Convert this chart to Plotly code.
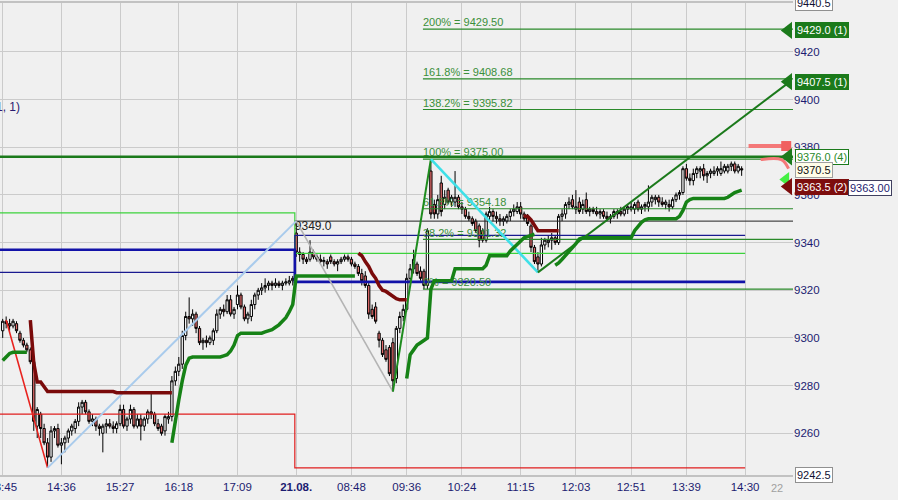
import plotly.graph_objects as go

# ---------------- data (3-minute bars, index 0 = 13:45 on day 1) ----------------
opens = [9303, 9307, 9306, 9305, 9306, 9302, 9299, 9297, 9295, 9290,
         9263, 9268, 9262, 9256, 9250, 9261, 9262, 9255, 9256, 9258,
         9261, 9262, 9265, 9271, 9273, 9269, 9265, 9266, 9263, 9260,
         9263, 9264, 9263, 9262, 9264, 9270, 9263, 9266, 9270, 9263,
         9266, 9263, 9266, 9269, 9268, 9264, 9263, 9261, 9266, 9267,
         9282, 9286, 9289, 9301, 9309, 9308, 9310, 9304, 9298, 9299,
         9298, 9299, 9303, 9310, 9312, 9311, 9316, 9310, 9314, 9318,
         9313, 9308, 9309, 9314, 9318, 9320, 9321, 9322, 9323, 9322,
         9323, 9322, 9323, 9323, 9324,
         9344, 9336, 9335, 9333, 9333, 9336, 9334, 9333, 9332, 9332,
         9334, 9332, 9331, 9332, 9333, 9334, 9333, 9331, 9330, 9327,
         9326, 9322, 9312, 9313, 9302, 9299, 9295, 9296, 9298, 9283,
         9304, 9309, 9312, 9325, 9329, 9331, 9328, 9328, 9322, 9370,
         9356, 9352, 9365, 9356, 9362, 9357, 9357, 9359, 9355, 9354,
         9351, 9350, 9349, 9347, 9345, 9341, 9351, 9353, 9351, 9350,
         9349, 9349, 9351, 9353, 9353, 9355, 9352, 9351, 9347, 9338,
         9334, 9331, 9339, 9340, 9341, 9342, 9340, 9351, 9352, 9356,
         9358, 9354, 9357, 9354, 9358, 9353, 9354, 9353, 9352, 9353,
         9351, 9350, 9351, 9352, 9353, 9352, 9354, 9354, 9354, 9357,
         9354, 9355, 9355, 9357, 9358, 9359, 9357, 9356, 9356, 9355,
         9358, 9360, 9361, 9371, 9367, 9366, 9369, 9370, 9371, 9368,
         9369, 9369, 9370, 9369, 9370, 9370, 9372, 9373, 9370, 9371]
highs = [9308, 9309, 9308, 9308, 9307, 9303, 9300, 9298, 9296, 9291,
         9271, 9269, 9264, 9258, 9263, 9263, 9264, 9258, 9259, 9262,
         9264, 9266, 9273, 9274, 9274, 9270, 9268, 9267, 9264, 9264,
         9266, 9266, 9265, 9265, 9272, 9272, 9267, 9272, 9271, 9268,
         9268, 9267, 9270, 9277, 9269, 9266, 9264, 9268, 9269, 9284,
         9288, 9292, 9303, 9311, 9317, 9312, 9311, 9305, 9300, 9301,
         9301, 9304, 9312, 9313, 9314, 9318, 9318, 9313, 9322, 9319,
         9314, 9311, 9316, 9319, 9321, 9323, 9325, 9324, 9324, 9325,
         9324, 9324, 9325, 9326, 9326,
         9349, 9338, 9336, 9334, 9341, 9337, 9335, 9335, 9334, 9333,
         9335, 9333, 9333, 9334, 9335, 9335, 9334, 9332, 9331, 9329,
         9328, 9323, 9314, 9315, 9303, 9300, 9297, 9297, 9300, 9305,
         9311, 9314, 9327, 9331, 9337, 9332, 9330, 9329, 9346, 9375,
         9358, 9360, 9368, 9362, 9363, 9360, 9370, 9360, 9357, 9355,
         9353, 9351, 9350, 9348, 9346, 9353, 9355, 9354, 9353, 9352,
         9351, 9352, 9354, 9356, 9357, 9357, 9353, 9352, 9348, 9339,
         9336, 9342, 9342, 9343, 9344, 9343, 9352, 9354, 9357, 9359,
         9360, 9362, 9359, 9358, 9361, 9355, 9355, 9355, 9354, 9354,
         9353, 9352, 9354, 9354, 9355, 9355, 9356, 9357, 9357, 9358,
         9356, 9357, 9364, 9360, 9360, 9360, 9359, 9358, 9358, 9359,
         9361, 9362, 9372, 9373, 9369, 9371, 9372, 9372, 9373, 9370,
         9371, 9372, 9372, 9374, 9373, 9373, 9374, 9374, 9373, 9372]
lows = [9300, 9304, 9303, 9304, 9302, 9298, 9296, 9294, 9289, 9261,
        9258, 9258, 9255, 9245.5, 9248, 9258, 9254, 9247, 9252, 9256,
        9259, 9260, 9263, 9268, 9268, 9264, 9263, 9261, 9259, 9252,
        9260, 9262, 9260, 9260, 9263, 9262, 9261, 9264, 9262, 9262,
        9257, 9261, 9264, 9266, 9263, 9261, 9259, 9259, 9264, 9265,
        9280, 9284, 9287, 9299, 9306, 9305, 9302, 9297, 9295, 9296,
        9297, 9297, 9302, 9308, 9309, 9310, 9309, 9308, 9312, 9312,
        9307, 9306, 9307, 9312, 9316, 9318, 9319, 9320, 9320, 9321,
        9321, 9320, 9322, 9322, 9322,
        9334, 9332, 9331, 9331, 9332, 9333, 9332, 9331, 9330, 9329,
        9331, 9330, 9328, 9331, 9332, 9332, 9330, 9329, 9326, 9322,
        9321, 9308, 9308, 9306, 9296, 9292, 9290, 9284, 9277.5, 9281,
        9302, 9307, 9311, 9323, 9327, 9326, 9324, 9320.5, 9320.5, 9350,
        9350, 9350, 9351, 9354, 9356, 9355, 9355, 9354, 9352, 9350,
        9349, 9347, 9344, 9338, 9340, 9340, 9349, 9349, 9348, 9347,
        9347, 9348, 9349, 9351, 9352, 9350, 9349, 9347, 9336, 9331,
        9327.5, 9330, 9337, 9338, 9337, 9339, 9339, 9349, 9350, 9354,
        9354, 9352, 9352, 9352, 9352, 9351, 9352, 9351, 9350, 9350,
        9349, 9348, 9350, 9350, 9351, 9351, 9352, 9353, 9352, 9353,
        9352, 9353, 9353, 9355, 9356, 9355, 9355, 9354, 9353, 9354,
        9357, 9358, 9360, 9366, 9364, 9364, 9367, 9367, 9366, 9365,
        9367, 9368, 9368, 9368, 9369, 9369, 9370, 9369, 9369, 9368]
closes = [9307, 9306, 9305, 9307, 9303, 9299, 9297, 9295, 9290, 9265,
          9270, 9262, 9256, 9250, 9261, 9262, 9255, 9256, 9258, 9261,
          9263, 9265, 9271, 9273, 9269, 9265, 9266, 9263, 9262, 9263,
          9264, 9263, 9262, 9264, 9270, 9263, 9266, 9270, 9263, 9266,
          9263, 9266, 9269, 9268, 9264, 9262, 9260, 9267, 9267, 9282,
          9286, 9289, 9301, 9309, 9308, 9310, 9304, 9298, 9299, 9298,
          9300, 9303, 9310, 9312, 9311, 9316, 9310, 9312, 9318, 9313,
          9308, 9310, 9314, 9318, 9320, 9321, 9322, 9323, 9322, 9323,
          9322, 9323, 9323.5, 9324, 9325,
          9336, 9335, 9333, 9332, 9336, 9334, 9333, 9332, 9332.5, 9331,
          9332, 9331, 9332, 9333, 9334, 9333, 9331, 9330, 9327, 9324,
          9322, 9310, 9309, 9307, 9299, 9293, 9291, 9285, 9282, 9304,
          9309, 9312, 9325, 9329, 9333, 9327, 9325, 9322, 9345, 9352,
          9352, 9358, 9353, 9359, 9357, 9359, 9359, 9355, 9354, 9351,
          9350, 9348, 9345, 9341, 9341, 9352, 9353, 9351, 9350, 9349,
          9350, 9351, 9353, 9354, 9355, 9352, 9350, 9348, 9338, 9332,
          9331, 9339, 9341, 9341, 9342, 9340, 9351, 9352, 9356, 9357,
          9355, 9355, 9353, 9356, 9353, 9354, 9353, 9352, 9353, 9351,
          9350, 9351, 9353, 9353, 9352, 9354, 9355, 9355, 9356, 9354,
          9355, 9356, 9357, 9359, 9359, 9357, 9356, 9357, 9355, 9358,
          9360, 9361, 9371, 9367, 9366, 9369, 9371, 9371, 9368, 9369,
          9370, 9370, 9371, 9371, 9372, 9372, 9373, 9370, 9372, 9370.5]

# trailing stops (start bar, values)
short_stop_a_start = 8
short_stop_a = [9307.5, 9289.5, 9281.5, 9281.5, 9279.5,
                9277.5, 9277.5, 9277.5, 9277.5, 9277.5, 9277.5, 9277.5, 9277.5, 9277.5, 9277.5,
                9277.5, 9277.5, 9277.5, 9277.5, 9277.5, 9277.5, 9277.5, 9277.5, 9277.5, 9277.5,
                9277, 9277, 9277, 9277, 9277, 9277, 9277, 9277, 9277, 9277,
                9277, 9277, 9277, 9277, 9277, 9277, 9277]
short_stop_b_start = 103
short_stop_b = [9335.5, 9334.5, 9332, 9330, 9327, 9325, 9322, 9320, 9319.5, 9318.5,
                9317.5, 9316.5, 9316, 9316, 9316]
short_stop_c_start = 151
short_stop_c = [9351, 9351, 9349.5, 9347, 9345, 9345, 9345, 9345, 9345, 9345, 9345]

long_stop_a_start = 0
long_stop_a = [9290.5, 9292, 9293.5, 9294, 9294, 9294, 9294, 9294]
long_stop_b_start = 49
long_stop_b = [9256, 9265.5, 9274, 9282, 9288.5, 9291.5,
               9292, 9292, 9292, 9292, 9292, 9292, 9292, 9292, 9292,
               9292.5, 9293, 9294.5, 9297, 9301,
               9302, 9302, 9302, 9302, 9302, 9302, 9302,
               9302.5, 9303, 9303.5, 9304.5, 9305.5, 9307, 9308.5, 9311, 9314,
               9326, 9326, 9326, 9326, 9326, 9326, 9326, 9326, 9326,
               9326, 9326, 9326, 9326, 9326, 9326, 9326, 9326, 9326]
long_stop_c_start = 117
long_stop_c = [9283, 9293, 9295, 9297, 9298, 9299, 9300, 9320.5,
               9324, 9324, 9324, 9324, 9324, 9324,
               9329, 9329, 9329, 9329, 9329, 9329, 9329, 9329, 9329,
               9330.5,
               9334.5, 9334.5, 9334.5, 9334.5, 9334.5, 9334.5,
               9336.5, 9338, 9339.5, 9341, 9342, 9342.5, 9343, 9343.5]
long_stop_d_start = 160
long_stop_d = [9330.5, 9331.5, 9333, 9334.5, 9336, 9337.5, 9339.5, 9341.5,
               9342, 9342, 9342, 9342, 9342, 9342, 9342, 9342, 9342, 9342, 9342, 9342, 9342, 9342, 9342,
               9345, 9347, 9348.5, 9349.5,
               9350, 9350, 9350, 9350, 9350, 9350, 9350, 9350, 9350,
               9351, 9353.5, 9357, 9358,
               9358.5, 9358.5, 9358.5, 9358.5, 9358.5, 9358.5, 9358.5, 9358.5, 9358.5, 9358.5,
               9359, 9360, 9361, 9361.5, 9362]

# zigzag swing points
zz_x = [1, 13, 85, 113, 124, 155]
zz_y = [9307.5, 9245.5, 9349.0, 9277.5, 9375.0, 9327.5]
zz_colors = ["#e8221e", "#a9cbec", "#b4b4b4", "#1e8c1e", "#3fe0e8"]
zz_widths = [1.6, 2, 1.6, 2, 2.6]
trend_x = [155, 228]
trend_y = [9327.5, 9407.5]

# daily levels: [day 1, day 2]
day_switch = 84.6
level_end = 215
x_left, x_right = -0.78, 228.87
red_level = [9268.0, 9245.5]
lightgreen_level = [9352.5, 9335.5]
navy_thick_level = [9337.0, 9323.5]
navy_thin_level = [9327.5, 9343.0]
day2_high = 9349.0
order_level = 9376.0

# fibonacci
fib_start = 121.7
fib_pcts = ["200%", "161.8%", "138.2%", "100%", "61.8%", "38.2%", "0%"]
fib_vals = [9429.50, 9408.68, 9395.82, 9375.00, 9354.18, 9341.32, 9320.50]

# x ticks
tick_idx = [0, 17, 34, 51, 68, 85, 101, 117, 133, 150, 166, 182, 198, 215]
tick_txt = ["13:45", "14:36", "15:27", "16:18", "17:09", "<b>21.08.</b>", "08:48",
            "09:36", "10:24", "11:15", "12:03", "12:51", "13:39", "14:30"]
y_ticks = [9260, 9280, 9300, 9320, 9340, 9360, 9380, 9400, 9420]

# right tags
tag_vals = [9429.0, 9407.5, 9376.0, 9363.5]
tag_text = ["9429.0 (1)", "9407.5 (1)", "9376.0 (4)", "9363.5 (2)"]
tag_bg = ["#1b7a1b", "#1b7a1b", "#ffffff", "#7d0d0d"]
tag_fg = ["#ffffff", "#ffffff", "#2a8a2a", "#ffffff"]
tag_arrow = ["#1b7a1b", "#1b7a1b", "#1b7a1b", "#7d0d0d"]
last_price = 9370.5
bid_price = 9363.00
axis_top, axis_bottom = 9440.5, 9242.5
edge_marks_x = [257, 257]
edge_marks_y = [9437.5, 9245]

FONT = "Liberation Sans, Arial, sans-serif"
NAVY = "#1c1c70"

n = len(closes)
bars = list(range(n))


def seg(start, vals):
    y = [None] * n
    for i, v in enumerate(vals):
        y[start + i] = v
    return y


fig = go.Figure()


def level(vals, color, width):
    fig.add_trace(go.Scatter(x=[x_left, day_switch, level_end], y=[vals[0], vals[1], vals[1]],
                             mode="lines", line=dict(color=color, width=width, shape="hv"),
                             hoverinfo="skip", showlegend=False))


level(red_level, "#e01e1e", 1.2)
level(lightgreen_level, "#3cd23c", 1.2)
level(navy_thin_level, "#1a1a90", 1.2)
level(navy_thick_level, "#1212a8", 2.6)

fig.add_trace(go.Scatter(x=[day_switch, x_right], y=[day2_high, day2_high], mode="lines",
                         line=dict(color="#222222", width=1), hoverinfo="skip", showlegend=False))
fig.add_trace(go.Scatter(x=[84.6], y=[day2_high], mode="text", text=["9349.0"],
                         textposition="bottom right", textfont=dict(family=FONT, size=12, color="#222222"),
                         hoverinfo="skip", showlegend=False))

# fib lines + labels
for v in fib_vals:
    fig.add_trace(go.Scatter(x=[fib_start, x_right], y=[v, v], mode="lines",
                             line=dict(color="#2a8a2a", width=1.2), hoverinfo="skip", showlegend=False))
fig.add_trace(go.Scatter(x=[fib_start] * len(fib_vals), y=fib_vals, mode="text",
                         text=[f"{p} = {v:.2f}" for p, v in zip(fib_pcts, fib_vals)],
                         textposition="top right", textfont=dict(family=FONT, size=11, color="#3a8f3a"),
                         hoverinfo="skip", showlegend=False))

fig.add_trace(go.Scatter(x=[x_left, x_right], y=[order_level, order_level], mode="lines",
                         line=dict(color="#1b7a1b", width=2.6), hoverinfo="skip", showlegend=False))

# candles
fig.add_trace(go.Candlestick(x=bars, open=opens, high=highs, low=lows, close=closes,
                             increasing=dict(line=dict(color="#000000", width=1), fillcolor="#ffffff"),
                             decreasing=dict(line=dict(color="#000000", width=1), fillcolor="#e06a6a"),
                             whiskerwidth=0, hoverinfo="skip", showlegend=False))

# zigzag
for i in range(len(zz_x) - 1):
    fig.add_trace(go.Scatter(x=zz_x[i:i + 2], y=zz_y[i:i + 2], mode="lines",
                             line=dict(color=zz_colors[i], width=zz_widths[i]),
                             hoverinfo="skip", showlegend=False))
fig.add_trace(go.Scatter(x=trend_x, y=trend_y, mode="lines", line=dict(color="#1b7a1b", width=2),
                         hoverinfo="skip", showlegend=False, cliponaxis=False))

# trailing stops
for st, vals in [(short_stop_a_start, short_stop_a), (short_stop_b_start, short_stop_b),
                 (short_stop_c_start, short_stop_c)]:
    fig.add_trace(go.Scatter(x=bars, y=seg(st, vals), mode="lines", connectgaps=False,
                             line=dict(color="#7a0a0a", width=3.5), hoverinfo="skip", showlegend=False))
for st, vals in [(long_stop_a_start, long_stop_a), (long_stop_b_start, long_stop_b),
                 (long_stop_c_start, long_stop_c), (long_stop_d_start, long_stop_d)]:
    fig.add_trace(go.Scatter(x=bars, y=seg(st, vals), mode="lines", connectgaps=False,
                             line=dict(color="#168216", width=3.5), hoverinfo="skip", showlegend=False))

# order markers near the axis
fig.add_trace(go.Scatter(x=[216, 226], y=[9380.5, 9380.5], mode="lines",
                         line=dict(color="#f47878", width=4), hoverinfo="skip", showlegend=False))
fig.add_trace(go.Scatter(x=[219.5, 225.5, 227.6], y=[9374.8, 9374.8, 9371.0], mode="lines",
                         line=dict(color="#f47878", width=3, shape="spline"), hoverinfo="skip", showlegend=False))
fig.add_trace(go.Scatter(x=[226.9], y=[9380.5], mode="markers",
                         marker=dict(symbol="square", size=10, color="#f06060"),
                         hoverinfo="skip", showlegend=False, cliponaxis=False))
fig.add_trace(go.Scatter(x=[226.8], y=[9366.5], mode="markers",
                         marker=dict(symbol="triangle-left", size=13, color="#44f044"),
                         hoverinfo="skip", showlegend=False, cliponaxis=False))

# tag arrows
fig.add_trace(go.Scatter(x=[227.5] * len(tag_vals), y=tag_vals, mode="markers",
                         marker=dict(symbol="triangle-left", size=15, color=tag_arrow),
                         hoverinfo="skip", showlegend=False, cliponaxis=False))
# small edge arrows at the far right
fig.add_trace(go.Scatter(x=edge_marks_x, y=edge_marks_y, mode="markers",
                         marker=dict(symbol="triangle-left", size=9, color=NAVY),
                         hoverinfo="skip", showlegend=False, cliponaxis=False))

annotations = []
for v, t, bg, fg, ac in zip(tag_vals, tag_text, tag_bg, tag_fg, tag_arrow):
    annotations.append(dict(x=1.0025, xref="paper", y=v, yref="y", xanchor="left", yanchor="middle",
                            text=t, showarrow=False, bgcolor=bg, bordercolor=ac, borderwidth=1,
                            borderpad=1, font=dict(family=FONT, size=11, color=fg)))
annotations.append(dict(x=1.0025, xref="paper", y=last_price, yref="y", xanchor="left", yanchor="middle",
                        text=f"{last_price:.1f}", showarrow=False, bgcolor="#fffde8", bordercolor="#a0a0a0",
                        borderwidth=1, borderpad=1, font=dict(family=FONT, size=11, color="#111111")))
annotations.append(dict(x=1.0694, xref="paper", y=bid_price, yref="y", xanchor="left", yanchor="middle",
                        text=f"{bid_price:.2f}", showarrow=False, bgcolor="#ffffff", bordercolor="#404060",
                        borderwidth=1, borderpad=1, font=dict(family=FONT, size=11, color=NAVY)))
for v in [axis_top, axis_bottom]:
    annotations.append(dict(x=1.0025, xref="paper", y=v, yref="y", xanchor="left", yanchor="middle",
                            text=f"{v:.1f}", showarrow=False, bgcolor="#ffffff", bordercolor="#909090",
                            borderwidth=1, borderpad=1, font=dict(family=FONT, size=11, color="#111133")))
annotations.append(dict(x=0.028, xref="paper", y=9396.8, yref="y", xanchor="right", yanchor="middle",
                        text="(1, 1)", showarrow=False, font=dict(family=FONT, size=12, color="#2a1a70")))
annotations.append(dict(x=0.98, xref="paper", y=-0.027, yref="paper", xanchor="center", yanchor="middle",
                        text="22", showarrow=False, font=dict(family=FONT, size=11, color="#a0a0a0")))

fig.update_layout(
    width=898, height=500,
    margin=dict(l=0, r=105, t=3, b=25),
    paper_bgcolor="#f0f0f0", plot_bgcolor="#f0f0f0",
    showlegend=False,
    annotations=annotations,
    hovermode=False,
    boxgap=0.05,
    xaxis=dict(range=[x_left, x_right], tickmode="array", tickvals=tick_idx, ticktext=tick_txt,
               showgrid=True, gridcolor="#cbcbcb", gridwidth=1, zeroline=False,
               showline=True, mirror=True, linecolor="#c2c2c2", linewidth=1.5,
               ticks="", ticklen=0, automargin=False, ticklabeloverflow="allow",
               tickfont=dict(family=FONT, size=11.5, color=NAVY),
               rangeslider=dict(visible=False), fixedrange=True),
    yaxis=dict(range=[axis_bottom, axis_top], side="right", tickmode="array", tickvals=y_ticks,
               showgrid=True, gridcolor="#cbcbcb", gridwidth=1, zeroline=False, showline=False,
               ticks="", ticklen=0, automargin=False,
               tickfont=dict(family=FONT, size=11.5, color=NAVY), fixedrange=True),
)

fig.write_html("out.html", config={"displayModeBar": False},
               post_script="document.body.style.margin='0px';document.body.style.overflow='hidden';")
